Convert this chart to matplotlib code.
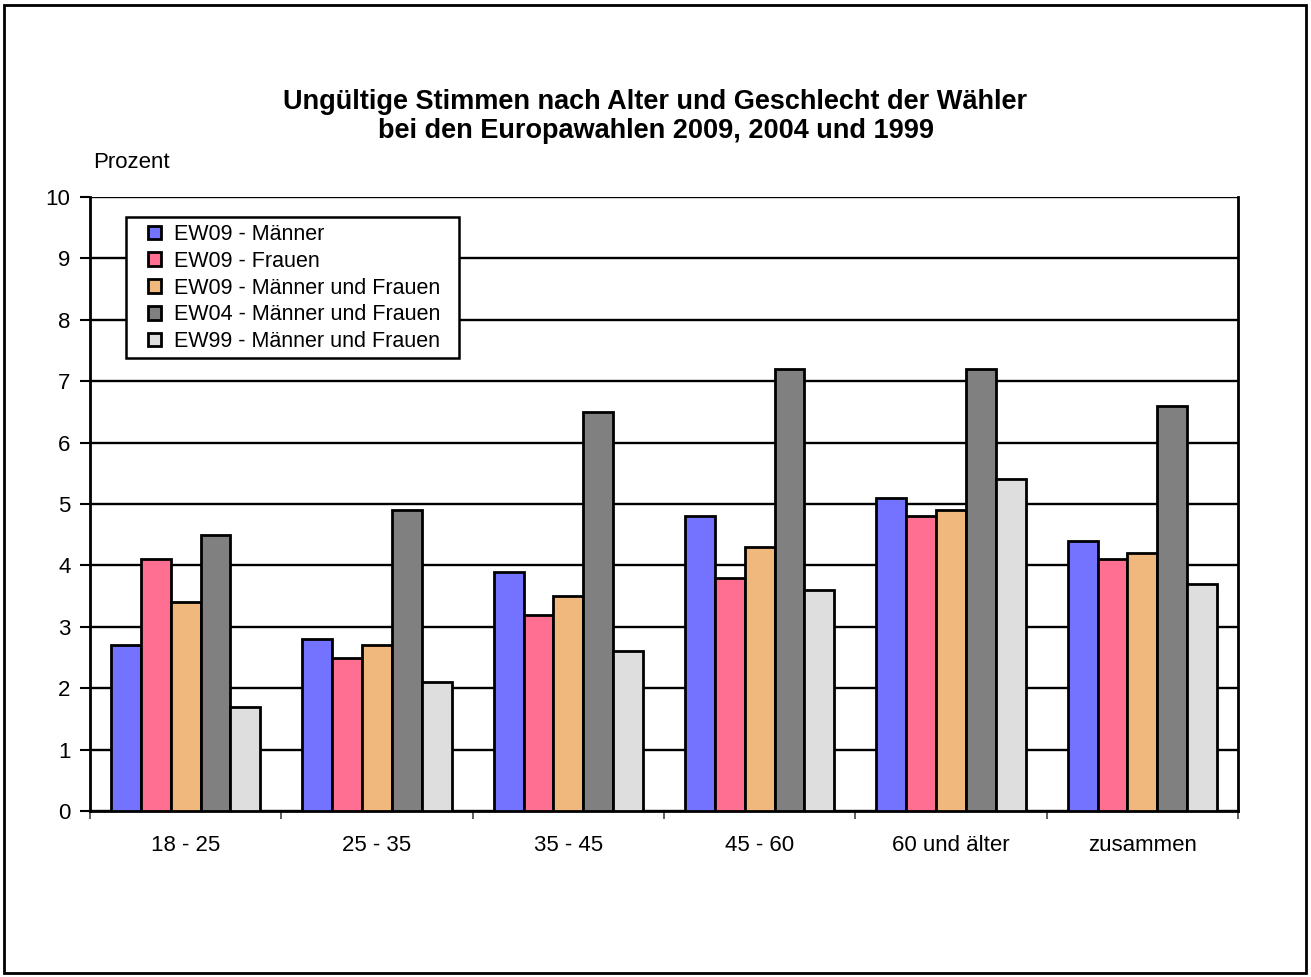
import matplotlib
matplotlib.use("Agg")
import matplotlib.pyplot as plt
from matplotlib.patches import Rectangle
import numpy as np

plt.rcParams['font.family'] = ['Liberation Sans', 'DejaVu Sans']

categories = ["18 - 25", "25 - 35", "35 - 45", "45 - 60", "60 und älter", "zusammen"]
series_names = ["EW09 - Männer", "EW09 - Frauen", "EW09 - Männer und Frauen",
                "EW04 - Männer und Frauen", "EW99 - Männer und Frauen"]
ew09_maenner = [2.7, 2.8, 3.9, 4.8, 5.1, 4.4]
ew09_frauen = [4.1, 2.5, 3.2, 3.8, 4.8, 4.1]
ew09_mf = [3.4, 2.7, 3.5, 4.3, 4.9, 4.2]
ew04_mf = [4.5, 4.9, 6.5, 7.2, 7.2, 6.6]
ew99_mf = [1.7, 2.1, 2.6, 3.6, 5.4, 3.7]
colors = ["#7373FF", "#FF6F91", "#F0B87C", "#808080", "#DEDEDE"]

data = [ew09_maenner, ew09_frauen, ew09_mf, ew04_mf, ew99_mf]

FS = 16
AX_L, AX_R, AX_T, AX_B = 90, 1238, 197, 811
AW, AH = AX_R - AX_L, AX_B - AX_T
fig = plt.figure(figsize=(13.11, 9.77), dpi=100)
ax = fig.add_axes([AX_L/1311, 1-AX_B/977, AW/1311, AH/977])

n = len(data)
bw = 0.156
x = np.arange(len(categories))
for i, (vals, name, c) in enumerate(zip(data, series_names, colors)):
    ax.bar(x + (i - (n-1)/2)*bw, vals, width=bw, color=c, edgecolor="black",
           linewidth=2.0, label=name, zorder=3)

ax.set_xlim(-0.5, len(categories)-0.5)
ax.set_ylim(0, 10)
ax.set_yticks(range(0, 11))
ax.set_yticklabels([str(v) for v in range(0, 11)], fontsize=FS)
ax.yaxis.grid(True, color="black", linewidth=1.7, zorder=1)
ax.set_axisbelow(True)
ax.tick_params(axis='y', direction='out', length=7, width=1.5, pad=7)
ax.set_xticks(np.arange(-0.5, len(categories)), minor=False)
ax.set_xticklabels([])
ax.set_xticks(x, minor=True)
ax.set_xticklabels(categories, minor=True, fontsize=FS)
ax.tick_params(axis='x', which='minor', length=0, pad=17)
ax.tick_params(axis='x', which='major', direction='out', length=6, width=1.2, color="#444444")
for s in ["left", "right", "bottom"]:
    ax.spines[s].set_linewidth(2.0)
    ax.spines[s].set_color("black")
ax.spines["top"].set_visible(False)

# legend box (frame drawn separately for asymmetric padding)
ax.add_patch(Rectangle(((126-AX_L)/AW, 1-(358-AX_T)/AH), (459-126)/AW, (358-217)/AH,
                       transform=ax.transAxes, facecolor="white", edgecolor="black",
                       linewidth=1.8, zorder=5, clip_on=False))
leg = ax.legend(loc="upper left", bbox_to_anchor=((148-AX_L)/AW, 1-(224-AX_T)/AH),
                fontsize=15.5, frameon=False,
                handlelength=0.6, handleheight=0.6, handletextpad=0.6,
                labelspacing=0.27, borderpad=0, borderaxespad=0)
leg.set_zorder(6)
for h in leg.legend_handles:
    h.set_linewidth(2.0)

fig.text(0.5, 1-102/977, "Ungültige Stimmen nach Alter und Geschlecht der Wähler",
         ha="center", va="center", fontsize=19.5, fontweight="bold")
fig.text(0.5, 1-131/977, "bei den Europawahlen 2009, 2004 und 1999",
         ha="center", va="center", fontsize=19.5, fontweight="bold")
fig.text(93/1311, 1-163/977, "Prozent", ha="left", va="center", fontsize=FS)

fig.add_artist(Rectangle((4/1311, 4/977), 1302/1311, 968/977, transform=fig.transFigure,
                         fill=False, edgecolor="black", linewidth=2))

fig.savefig("out.png", dpi=100)
